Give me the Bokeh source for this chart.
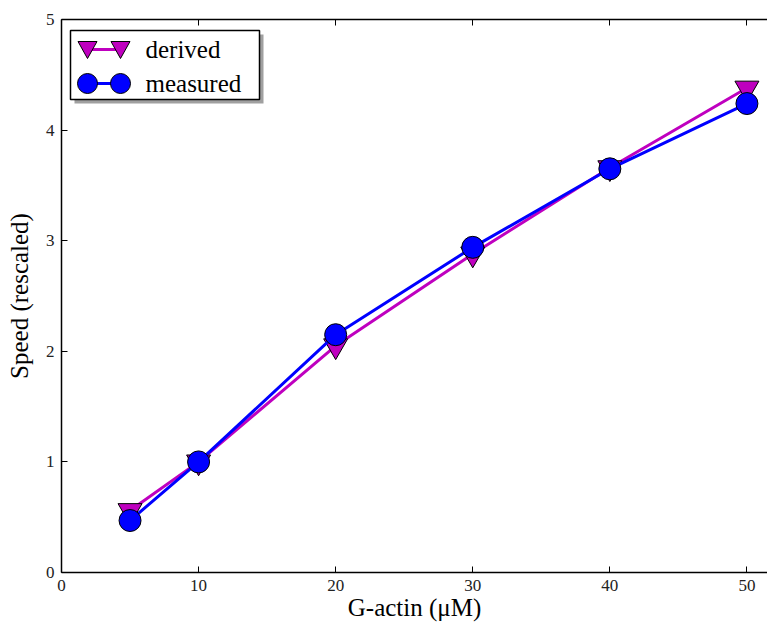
from bokeh.plotting import figure
from bokeh.models import (LinearAxis, FixedTicker, Range1d, BoxAnnotation,
                          PolyAnnotation, Label)
from bokeh.embed import file_html
from bokeh.resources import INLINE

# Data
gactin = [5, 10, 20, 30, 40, 50]
derived = [0.56, 1.00, 2.05, 2.88, 3.66, 4.38]
measured = [0.47, 1.00, 2.15, 2.94, 3.65, 4.24]
x_ticks = [0, 10, 20, 30, 40, 50]
y_ticks = [0, 1, 2, 3, 4, 5]
series_names = ["derived", "measured"]

FONT = "Liberation Serif"
MAGENTA = "#bf00bf"
BLUE = "#0000ff"

BL, BT, BB = 61, 19, 52   # frame borders (px)
H = 624
p = figure(width=767, height=H, output_backend="svg", toolbar_location=None,
           x_range=Range1d(0, 51.5), y_range=Range1d(0, 5),
           x_axis_location=None, y_axis_location=None,
           min_border_left=BL, min_border_right=0, min_border_top=BT, min_border_bottom=BB)
p.grid.visible = False
p.outline_line_color = None
p.background_fill_color = "white"
p.border_fill_color = "white"


def style_axis(ax, ticks):
    ax.ticker = FixedTicker(ticks=ticks)
    ax.axis_line_color = "black"
    ax.axis_line_width = 1.5
    ax.major_tick_in = 6
    ax.major_tick_out = 0
    ax.major_tick_line_width = 1
    ax.minor_tick_line_color = None
    ax.major_tick_line_color = "black"
    ax.major_label_text_font = FONT
    ax.major_label_text_font_size = "17px"
    ax.major_label_text_color = "#222222"
    ax.major_label_standoff = 7
    ax.axis_label_text_font = FONT
    ax.axis_label_text_font_size = "25px"
    ax.axis_label_text_font_style = "normal"
    ax.axis_label_text_color = "black"


xb = LinearAxis(axis_label="G-actin (μM)")
xt = LinearAxis()
yl = LinearAxis(axis_label="Speed (rescaled)")
style_axis(xb, x_ticks)
style_axis(xt, x_ticks)
xt.major_label_overrides = {t: "" for t in x_ticks}
style_axis(yl, y_ticks)
xb.axis_label_standoff = 0
yl.axis_label_standoff = 10
p.add_layout(xb, "below")
p.add_layout(xt, "above")
p.add_layout(yl, "left")

p.line(gactin, derived, line_color=MAGENTA, line_width=3)
p.scatter(gactin, derived, marker="inverted_triangle", size=24,
          fill_color=MAGENTA, line_color="black", line_width=1)
p.line(gactin, measured, line_color=BLUE, line_width=3)
p.scatter(gactin, measured, marker="circle", size=22,
          fill_color=BLUE, line_color="black", line_width=1)

# ---- legend (screen units: origin at frame bottom-left, y up) ----
FRAME_BOTTOM = H - BB


def sx(X):
    return X - BL


def sy(Y):
    return FRAME_BOTTOM - Y


SC = dict(left_units="screen", right_units="screen",
          top_units="screen", bottom_units="screen")
# shadow
p.add_layout(BoxAnnotation(left=sx(74), right=sx(263), top=sy(34), bottom=sy(103),
                           fill_color="#a0a0a0", fill_alpha=1.0, line_color=None, **SC))
# frame
p.add_layout(BoxAnnotation(left=sx(70), right=sx(259), top=sy(30), bottom=sy(99),
                           fill_color="white", fill_alpha=1.0,
                           line_color="black", line_alpha=1.0, line_width=1.5, **SC))

row_y = [49, 83]
mx = [87, 120]
# derived row
p.add_layout(BoxAnnotation(left=sx(mx[0]), right=sx(mx[1]),
                           top=sy(row_y[0] - 1.5), bottom=sy(row_y[0] + 1.5),
                           fill_color=MAGENTA, fill_alpha=1.0, line_color=None, **SC))
for cx in mx:
    p.add_layout(PolyAnnotation(xs=[sx(cx - 9.5), sx(cx + 9.5), sx(cx)],
                                ys=[sy(row_y[0] - 8), sy(row_y[0] - 8), sy(row_y[0] + 9)],
                                xs_units="screen", ys_units="screen",
                                fill_color=MAGENTA, fill_alpha=1.0,
                                line_color="black", line_alpha=1.0, line_width=1))
# measured row
p.add_layout(BoxAnnotation(left=sx(mx[0]), right=sx(mx[1]),
                           top=sy(row_y[1] - 1.5), bottom=sy(row_y[1] + 1.5),
                           fill_color=BLUE, fill_alpha=1.0, line_color=None, **SC))
for cx in mx:
    p.add_layout(BoxAnnotation(left=sx(cx - 10), right=sx(cx + 10),
                               top=sy(row_y[1] - 10), bottom=sy(row_y[1] + 10),
                               border_radius=10, fill_color=BLUE, fill_alpha=1.0,
                               line_color="black", line_alpha=1.0, line_width=1, **SC))

for name, yy in zip(series_names, row_y):
    p.add_layout(Label(x=sx(145), y=sy(yy), x_units="screen", y_units="screen", text=name,
                       text_font=FONT, text_font_size="25px", text_color="black",
                       text_baseline="middle", text_align="left"))

open("out.html", "w").write(file_html(p, INLINE))
